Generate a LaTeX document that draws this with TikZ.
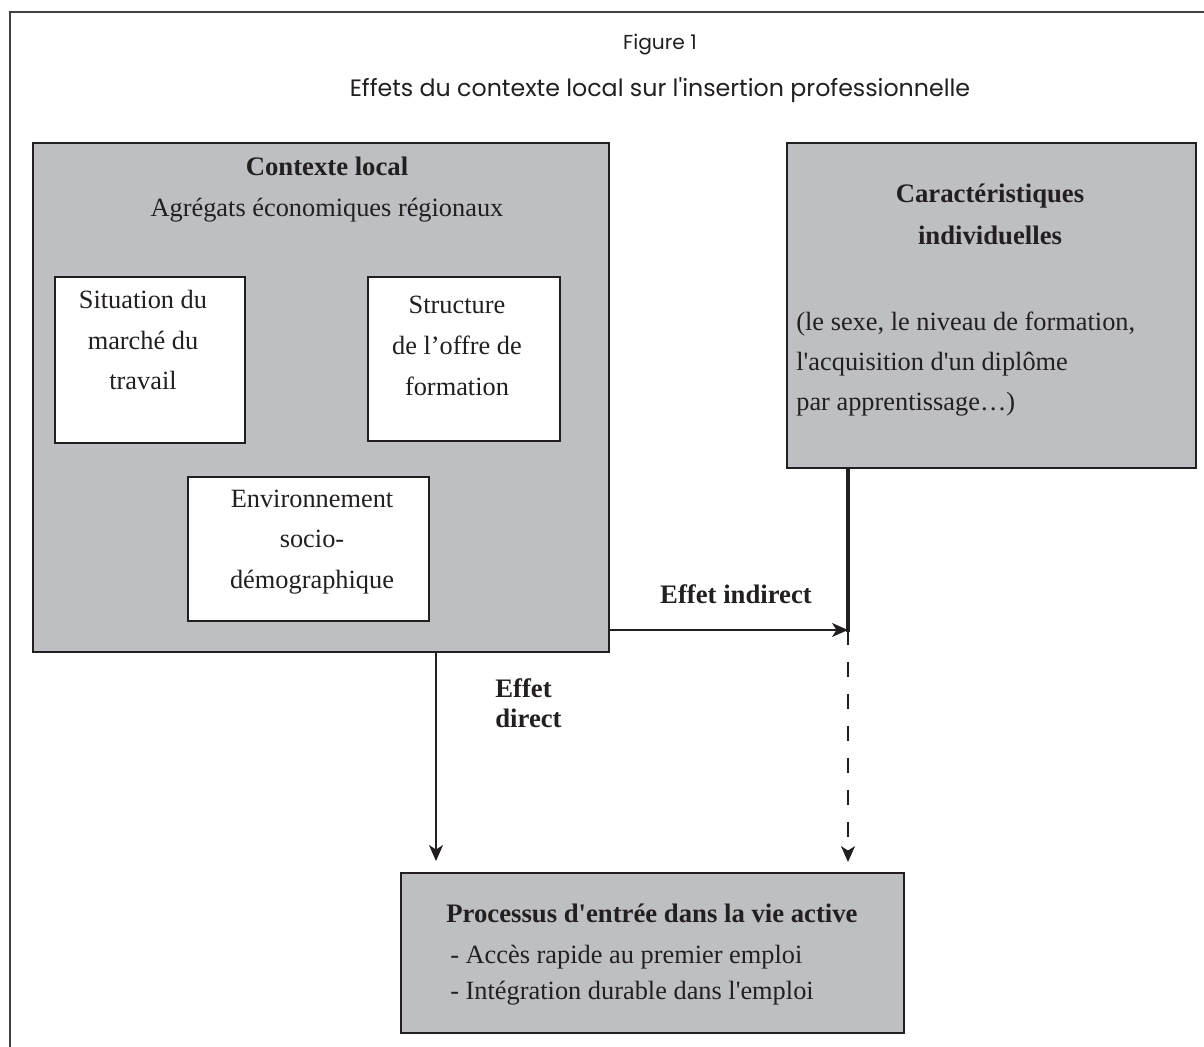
\documentclass[tikz,border=0pt]{standalone}
\usepackage{fontspec}
\setmainfont{Liberation Serif}[Ligatures=TeXOff]
\newfontfamily\figsans{Poppins}[Ligatures=TeXOff]
\usepackage{tikz}
\usetikzlibrary{arrows.meta,positioning}
\definecolor{figInk}{HTML}{231F20}
\definecolor{figGrey}{HTML}{BEBFC3}
\tikzset{
    fig/frame/.style={
        draw=figInk!85, line width=0.6pt
    },
    fig/group/.style={
        rectangle, draw=figInk, fill=figGrey,
        line width=1.1pt, inner sep=0pt
    },
    fig/factor/.style={
        fig/group, fill=white
    },
    fig/text/.style={
        font=\fontsize{15}{23.2}\selectfont, text=figInk,
        align=center, inner sep=0pt
    },
    fig/heading/.style={
        fig/text, font=\fontsize{15.2}{24}\selectfont\bfseries
    },
    fig/caption/.style={
        font=\figsans\fontsize{11.5}{14}\selectfont, text=figInk,
        inner sep=0pt
    },
    fig/line/.style={
        draw=figInk, line width=0.8pt
    },
    fig/arrow/.style={
        fig/line, -{Stealth[length=3.2mm,width=2.8mm,inset=0.9mm]}
    },
    fig/link/.style={
        draw=figInk, line width=2.2pt
    },
    fig/dashed arrow/.style={
        fig/arrow, dash pattern=on 0.3cm off 0.34cm
    },
    fig/edge label/.style={
        fig/heading, align=left, font=\fontsize{15.2}{17}\selectfont\bfseries
    }
}

\begin{document}
\begin{tikzpicture}[x=0.02cm, y=-0.02cm]
    \useasboundingbox (0,0) rectangle (1204,1047);
    \draw[fig/frame] (10,1047) -- (10,12) -- (1204,12);

    \node[fig/caption] (figno) at (660,45) {Figure 1};
    \node[fig/caption, font=\figsans\fontsize{13.5}{16}\selectfont] (titre) at (660,90)
        {Effets du contexte local sur l'insertion professionnelle};

    % contexte local et ses trois facteurs
    \node[fig/group, minimum width=11.52cm, minimum height=10.18cm] (contexte) at (321,397.5) {};
    \node[fig/heading] (contextetitre) at (327,166) {Contexte local};
    \node[fig/text] (agregats) at (327,210) {Agrégats économiques régionaux};
    \node[fig/factor, minimum width=3.8cm, minimum height=3.32cm] (marche) at (150,360) {};
    \node[fig/text] (marchetxt) at (143,340) {Situation du\\marché du\\travail};
    \node[fig/factor, minimum width=3.84cm, minimum height=3.28cm] (offre) at (464,359) {};
    \node[fig/text] (offretxt) at (457,346) {Structure\\de l’offre de\\formation};
    \node[fig/factor, minimum width=4.82cm, minimum height=2.88cm] (milieu) at (308.5,549) {};
    \node[fig/text] (milieutxt) at (312,542) {Environnement\\socio-\\démographique};

    % caracteristiques individuelles
    \node[fig/group, minimum width=8.18cm, minimum height=6.5cm] (caract) at (991.5,305.5) {};
    \node[fig/heading] (caracttitre) at (990,214.5) {Caractéristiques\\individuelles};
    \node[fig/text, align=left, anchor=west, font=\fontsize{15}{22.7}\selectfont] (caracttxt) at (796,364)
        {(le sexe, le niveau de formation,\\l'acquisition d'un diplôme\\par apprentissage…)};

    % processus
    \node[fig/group, minimum width=10.06cm, minimum height=3.2cm] (processus) at (652.5,953) {};
    \node[fig/heading] (processustitre) at (652,913) {Processus d'entrée dans la vie active};
    \node[fig/text, align=left, anchor=west, font=\fontsize{15}{20.4}\selectfont] (processustxt) at (450,975)
        {- Accès rapide au premier emploi\\- Intégration durable dans l'emploi};

    % effets
    \coordinate (directx) at (436,0);
    \coordinate (joint) at (848,630);
    \draw[fig/arrow, shorten >=0.22cm] (contexte.south -| directx) -- (processus.north -| directx);
    \node[fig/edge label, anchor=west] (directlbl) at (495,703) {Effet\\direct};
    \draw[fig/link] (caract.south -| joint) -- ([yshift=-1pt]joint);
    \draw[fig/arrow] (contexte.east |- joint) -- (joint);
    \node[fig/edge label] (indirectlbl) at (736,594) {Effet indirect};
    \draw[fig/dashed arrow, shorten >=0.2cm] (joint) -- (processus.north -| joint);
\end{tikzpicture}
\end{document}
